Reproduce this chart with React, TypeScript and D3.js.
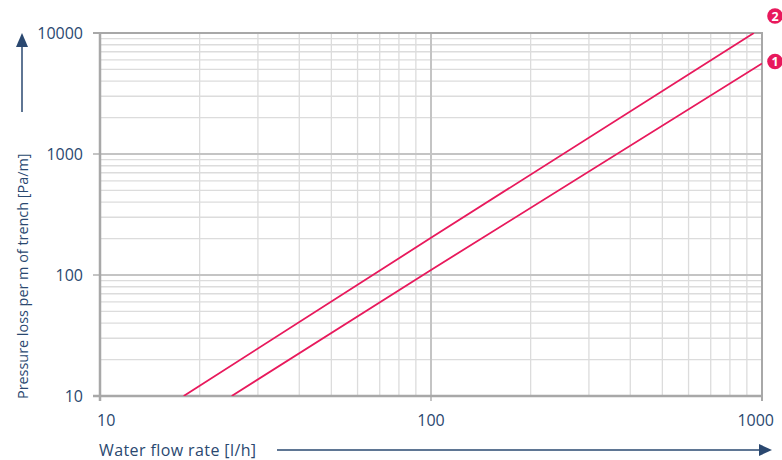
import React from "react";
import * as d3 from "d3";

const xTicks = [10, 100, 1000];
const yTicks = [10, 100, 1000, 10000];
const line1 = [
  [25, 10],
  [100, 110],
  [1000, 5600],
];
const line2 = [
  [17.9, 10],
  [100, 203],
  [945, 10000],
];
const seriesLabels = ["1", "2"];

const TEXT = "#2a4870";
const RED = "#e8195c";
const FONT = "'Open Sans', sans-serif";

export default function App() {
  const W = 782,
    H = 460;
  const x = d3.scaleLog().domain([10, 1000]).range([100, 762]);
  const y = d3.scaleLog().domain([10, 10000]).range([396, 33]);

  const minorX: number[] = [];
  for (const d of [10, 100]) for (let k = 2; k <= 9; k++) minorX.push(d * k);
  const minorY: number[] = [];
  for (const d of [10, 100, 1000]) for (let k = 2; k <= 9; k++) minorY.push(d * k);

  const lineGen = d3
    .line<number[]>()
    .x((d) => x(d[0]))
    .y((d) => y(d[1]));

  const series = [line1, line2];
  const ends = series.map((s) => s[s.length - 1]);

  return (
    <svg
      width={W}
      height={H}
      style={{ position: "absolute", left: 0, top: 0, fontFamily: FONT }}
    >
      <defs>
        <clipPath id="plot">
          <rect x={100} y={33} width={662} height={363} />
        </clipPath>
      </defs>
      <rect width={W} height={H} fill="#fff" />
      {/* minor grid */}
      {minorX.map((v) => (
        <line key={"mx" + v} x1={x(v)} x2={x(v)} y1={33} y2={396} stroke="#dcdcdc" strokeWidth={1.3} />
      ))}
      {minorY.map((v) => (
        <line key={"my" + v} x1={100} x2={762} y1={y(v)} y2={y(v)} stroke="#dcdcdc" strokeWidth={1.3} />
      ))}
      {/* major grid */}
      {xTicks.map((v) => (
        <line key={"Mx" + v} x1={x(v)} x2={x(v)} y1={33} y2={401} stroke="#c4c4c4" strokeWidth={2} />
      ))}
      {yTicks.map((v) => (
        <line key={"My" + v} x1={93} x2={762} y1={y(v)} y2={y(v)} stroke="#c4c4c4" strokeWidth={2} />
      ))}
      {/* frame */}
      <line x1={100} x2={100} y1={33} y2={401} stroke="#a8a8a8" strokeWidth={2.5} />
      <line x1={93} x2={763} y1={396} y2={396} stroke="#a8a8a8" strokeWidth={2.5} />
      <line x1={762} x2={762} y1={32} y2={401} stroke="#a8a8a8" strokeWidth={2} />
      <line x1={93} x2={763} y1={33} y2={33} stroke="#a8a8a8" strokeWidth={2} />
      {/* series */}
      <g clipPath="url(#plot)">
        {series.map((s, i) => (
          <path key={i} d={lineGen(s) || ""} fill="none" stroke={RED} strokeWidth={1.8} />
        ))}
      </g>
      {/* markers */}
      {ends.map((e, i) => {
        const cy = i === 0 ? y(e[1]) - 2 : y(e[1]) - 17;
        return (
          <g key={"m" + i}>
            <circle cx={775} cy={cy} r={7.8} fill={RED} />
            <text x={775} y={cy + 4.5} textAnchor="middle" fill="#fff" fontSize={12.5} fontWeight="bold">
              {seriesLabels[i]}
            </text>
          </g>
        );
      })}
      {/* y tick labels */}
      {yTicks.map((v) => (
        <text key={"yl" + v} x={83} y={y(v) + 5.5} textAnchor="end" fill={TEXT} fontSize={16}>
          {v}
        </text>
      ))}
      {/* x tick labels */}
      {xTicks.map((v, i) => (
        <text
          key={"xl" + v}
          x={i === 0 ? 97 : i === 2 ? 774 : x(v)}
          y={426}
          textAnchor={i === 0 ? "start" : i === 2 ? "end" : "middle"}
          fill={TEXT}
          fontSize={16}
        >
          {v}
        </text>
      ))}
      {/* x axis title + arrow */}
      <text x={99} y={456} fill={TEXT} fontSize={16} letterSpacing={0.4}>
        Water flow rate [l/h]
      </text>
      <line x1={277} x2={762} y1={450} y2={450} stroke={TEXT} strokeWidth={1.5} />
      <path d="M759,444 L772,450 L759,456 Z" fill={TEXT} />
      {/* y axis title + arrow */}
      <text
        transform="translate(28,399) rotate(-90)"
        fill={TEXT}
        fontSize={14.4}
      >
        Pressure loss per m of trench [Pa/m]
      </text>
      <line x1={22} x2={22} y1={112} y2={44} stroke={TEXT} strokeWidth={1.5} />
      <path d="M16,47 L22,33 L28,47 Z" fill={TEXT} />
    </svg>
  );
}
